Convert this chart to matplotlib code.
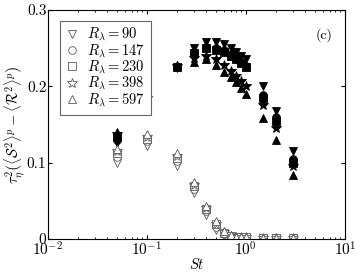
import numpy as np
import matplotlib
matplotlib.use("Agg")
import matplotlib.pyplot as plt

plt.rcParams['font.family'] = 'serif'
plt.rcParams['font.serif'] = ['cmr10', 'DejaVu Serif']
plt.rcParams['mathtext.fontset'] = 'cm'
plt.rcParams['axes.unicode_minus'] = False
plt.rcParams['axes.formatter.use_mathtext'] = True

# Stokes numbers
st_lo = [0.05, 0.1, 0.2, 0.3, 0.4, 0.5, 0.6, 0.7, 0.8, 0.9, 1.0, 1.5, 2.0, 3.0]
st_hi = [0.05, 0.1, 0.2, 0.3, 0.4, 0.5, 0.6, 0.7, 0.8, 0.9, 1.0, 1.5, 2.0, 3.0]

labels = [r'$R_\lambda=90$', r'$R_\lambda=147$', r'$R_\lambda=230$',
          r'$R_\lambda=398$', r'$R_\lambda=597$']
markers = ['v', 'o', 's', '*', '^']

# open symbols (lower branch)
open_vals = [
    [0.100, 0.122, 0.095, 0.060, 0.031, 0.012, 0.004, 0.002, 0.002, 0.001, 0.001, 0.001, 0.001, 0.001],
    [0.107, 0.128, 0.102, 0.066, 0.036, 0.016, 0.006, 0.003, 0.002, 0.002, 0.001, 0.001, 0.001, 0.001],
    [0.112, 0.131, 0.106, 0.069, 0.039, 0.019, 0.008, 0.004, 0.003, 0.002, 0.002, 0.001, 0.001, 0.001],
    [0.115, 0.133, 0.108, 0.071, 0.040, 0.020, 0.009, 0.004, 0.003, 0.002, 0.002, 0.001, 0.001, 0.001],
    [0.118, 0.138, 0.112, 0.075, 0.043, 0.023, 0.011, 0.005, 0.003, 0.002, 0.002, 0.001, 0.001, 0.001],
]

# filled symbols (upper branch)
filled_vals = [
    [0.126, 0.168, 0.224, 0.250, 0.258, 0.258, 0.255, 0.250, 0.245, 0.240, 0.235, 0.200, 0.168, 0.115],
    [0.130, 0.180, 0.225, 0.245, 0.252, 0.250, 0.247, 0.242, 0.237, 0.232, 0.226, 0.188, 0.160, 0.105],
    [0.133, 0.183, 0.225, 0.243, 0.250, 0.248, 0.245, 0.240, 0.235, 0.230, 0.225, 0.185, 0.155, 0.100],
    [0.137, 0.185, 0.226, 0.237, 0.240, 0.235, 0.228, 0.220, 0.213, 0.207, 0.200, 0.175, 0.145, 0.095],
    [0.140, 0.185, 0.228, 0.232, 0.235, 0.228, 0.218, 0.212, 0.205, 0.198, 0.190, 0.158, 0.130, 0.084],
]

fig = plt.figure(figsize=(3.6, 2.74), dpi=100)
ax = fig.add_axes([0.133, 0.128, 0.825, 0.836])

for m, lab, yo, yf in zip(markers, labels, open_vals, filled_vals):
    ms = 7 if m == '*' else 5.5
    ax.plot(st_lo, yo, linestyle='none', marker=m, ms=ms, mfc='white',
            mec='0.35', mew=0.6, label=lab)
    ax.plot(st_hi, yf, linestyle='none', marker=m, ms=ms, mfc='black',
            mec='black', mew=0.6)

ax.set_xscale('log')
ax.set_xlim(1e-2, 10)
ax.set_ylim(0, 0.3)
ax.set_yticks([0, 0.1, 0.2, 0.3])
ax.set_yticklabels(['0', '0.1', '0.2', '0.3'])
ax.tick_params(which='both', direction='in', top=True, right=True, labelsize=11, pad=1)
ax.tick_params(which='major', length=3)
ax.tick_params(which='minor', length=1.5)
ax.set_xlabel(r'$St$', fontsize=10.5, labelpad=-1)
ax.set_ylabel(r'$\tau_\eta^2\left(\langle\mathcal{S}^2\rangle^p - \langle\mathcal{R}^2\rangle^p\right)$',
              fontsize=10.5, labelpad=-1)
ax.text(0.93, 0.89, '(c)', transform=ax.transAxes, fontsize=10,
        ha='center', va='center')

leg = ax.legend(loc='upper left', fontsize=10.5, handlelength=0.9,
                handletextpad=0.6, labelspacing=-0.05, borderpad=0.4,
                fancybox=False, edgecolor='0.4', framealpha=1,
                bbox_to_anchor=(0.015, 0.985))
leg.get_frame().set_linewidth(0.8)

fig.savefig('out.png', dpi=100)
